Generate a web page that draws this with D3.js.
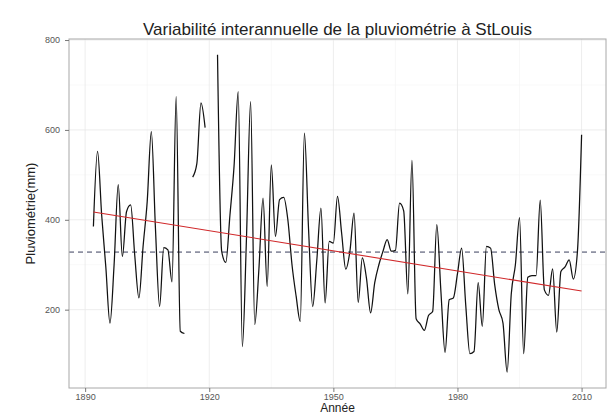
<!DOCTYPE html>
<html>
<head>
<meta charset="utf-8">
<script src="https://cdn.jsdelivr.net/npm/d3@7"></script>
<style>
  html, body { margin: 0; padding: 0; background: #fff; }
  svg { display: block; }
</style>
</head>
<body>
<svg id="chart" width="607" height="414"></svg>
<script>
// ---- Data (annual rainfall, mm) ----
const years = d3.range(1892, 2011);
const rainfall = [
  385, 552, 410, 295, 170, 300, 478, 318, 418, 433,   // 1892-1901
  320, 226, 340, 440, 596, 380, 207, 338, 333, 262,   // 1902-1911
  674, 152, 147, null, 495, 525, 660, 605, null, null, // 1912-1921
  767, 330, 305, 410, 520, 685, 118, 360, 663, 167,   // 1922-1931
  290, 448, 252, 522, 363, 445, 450, 400, 300, 230,   // 1932-1941
  174, 593, 380, 207, 310, 426, 215, 352, 348, 452,   // 1942-1951
  370, 290, 330, 415, 216, 315, 270, 193, 260, 300,   // 1952-1961
  330, 356, 330, 332, 437, 420, 235, 532, 180, 168,   // 1962-1971
  154, 187, 196, 389, 240, 105, 222, 226, 280, 337,   // 1972-1981
  210, 102, 107, 260, 163, 341, 337, 255, 200, 170,   // 1982-1991
  61, 235, 300, 405, 102, 272, 276, 276, 444, 244,    // 1992-2001
  232, 291, 150, 285, 295, 311, 268, 330, 589         // 2002-2010
];
const xTicks = [1890, 1920, 1950, 1980, 2010];
const xMinor = [1905, 1935, 1965, 1995];
const yTicks = [200, 400, 600, 800];
const yMinor = [300, 500, 700];
const titleText = "Variabilité interannuelle de la pluviométrie à StLouis";
const xLabel = "Année";
const yLabel = "Pluviométrie(mm)";

const data = years.map((y, i) => ({ year: y, value: rainfall[i] }));
const valid = data.filter(d => d.value != null);

// ---- Layout ----
const svg = d3.select("#chart");
const panel = { left: 69, right: 606, top: 39, bottom: 388 };
const font = "Liberation Sans, Arial, sans-serif";

const xExt = d3.extent(valid, d => d.year);
const yExt = d3.extent(valid, d => d.value);
const xPad = (xExt[1] - xExt[0]) * 0.05;
const yPad = (yExt[1] - yExt[0]) * 0.05;

const x = d3.scaleLinear().domain([xExt[0] - xPad, xExt[1] + xPad]).range([panel.left, panel.right]);
const y = d3.scaleLinear().domain([yExt[0] - yPad, yExt[1] + yPad]).range([panel.bottom, panel.top]);

// grid
const g = svg.append("g");
g.selectAll(".xminor").data(xMinor).enter().append("line")
  .attr("x1", d => x(d)).attr("x2", d => x(d))
  .attr("y1", panel.top).attr("y2", panel.bottom)
  .attr("stroke", "#f4f4f4").attr("stroke-width", 0.6);
g.selectAll(".yminor").data(yMinor).enter().append("line")
  .attr("y1", d => y(d)).attr("y2", d => y(d))
  .attr("x1", panel.left).attr("x2", panel.right)
  .attr("stroke", "#f4f4f4").attr("stroke-width", 0.6);
g.selectAll(".xmajor").data(xTicks).enter().append("line")
  .attr("x1", d => x(d)).attr("x2", d => x(d))
  .attr("y1", panel.top).attr("y2", panel.bottom)
  .attr("stroke", "#e8e8e8").attr("stroke-width", 0.8);
g.selectAll(".ymajor").data(yTicks).enter().append("line")
  .attr("y1", d => y(d)).attr("y2", d => y(d))
  .attr("x1", panel.left).attr("x2", panel.right)
  .attr("stroke", "#e8e8e8").attr("stroke-width", 0.8);

// mean line (dashed)
const mean = d3.mean(valid, d => d.value);
svg.append("line")
  .attr("x1", panel.left).attr("x2", panel.right)
  .attr("y1", y(mean)).attr("y2", y(mean))
  .attr("stroke", "#3a3f5c").attr("stroke-width", 1)
  .attr("stroke-dasharray", "5,4");

// rainfall line
const line = d3.line()
  .defined(d => d.value != null)
  .x(d => x(d.year)).y(d => y(d.value))
  .curve(d3.curveMonotoneX);
svg.append("path").datum(data)
  .attr("fill", "none").attr("stroke", "#111")
  .attr("stroke-width", 1.25).attr("d", line);

// linear trend (least squares)
const mx = d3.mean(valid, d => d.year), my = mean;
const slope = d3.sum(valid, d => (d.year - mx) * (d.value - my)) / d3.sum(valid, d => (d.year - mx) ** 2);
const trend = [xExt[0], xExt[1]].map(t => ({ year: t, value: my + slope * (t - mx) }));
svg.append("path").datum(trend)
  .attr("fill", "none").attr("stroke", "#d0282a").attr("stroke-width", 1.1)
  .attr("d", d3.line().x(d => x(d.year)).y(d => y(d.value)));

// panel border
svg.append("rect")
  .attr("x", panel.left).attr("y", panel.top)
  .attr("width", panel.right - panel.left).attr("height", panel.bottom - panel.top)
  .attr("fill", "none").attr("stroke", "#a8a8a8").attr("stroke-width", 1);

// axes
const xAxis = d3.axisBottom(x).tickValues(xTicks).tickSize(4).tickPadding(2).tickFormat(d3.format("d"));
const yAxis = d3.axisLeft(y).tickValues(yTicks).tickSize(4).tickPadding(5).tickFormat(d3.format("d"));
const gx = svg.append("g").attr("transform", `translate(0,${panel.bottom})`).call(xAxis);
const gy = svg.append("g").attr("transform", `translate(${panel.left},0)`).call(yAxis);
[gx, gy].forEach(a => {
  a.select(".domain").remove();
  a.selectAll(".tick line").attr("stroke", "#777");
  a.selectAll(".tick text").attr("fill", "#555")
    .style("font-family", font).style("font-size", "9px");
});

// titles
svg.append("text").attr("x", (panel.left + panel.right) / 2).attr("y", 35)
  .attr("text-anchor", "middle")
  .style("font-family", font).style("font-size", "17px")
  .attr("fill", "#222").text(titleText);
svg.append("text").attr("x", (panel.left + panel.right) / 2).attr("y", 412)
  .attr("text-anchor", "middle")
  .style("font-family", font).style("font-size", "12px")
  .attr("fill", "#222").text(xLabel);
svg.append("text")
  .attr("transform", `translate(35,${(panel.top + panel.bottom) / 2}) rotate(-90)`)
  .attr("text-anchor", "middle")
  .style("font-family", font).style("font-size", "13px")
  .attr("fill", "#222").text(yLabel);
</script>
</body>
</html>
